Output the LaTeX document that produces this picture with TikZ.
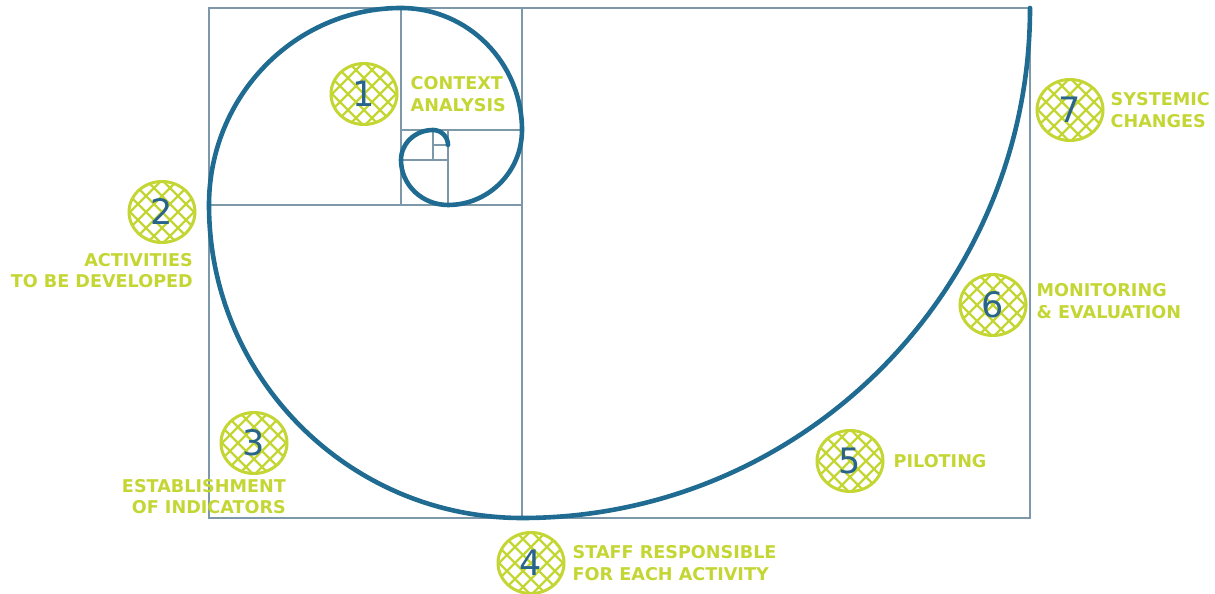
\documentclass[tikz,border=0pt]{standalone}
\usepackage{fontspec}
\setmainfont{DejaVu Sans}
\usetikzlibrary{positioning,shapes.geometric}
\definecolor{spiralblue}{RGB}{31,107,145}
\definecolor{gridgray}{RGB}{125,152,168}
\definecolor{limegreen}{RGB}{196,214,52}
\definecolor{digitblue}{RGB}{40,100,140}

\begin{document}
\begin{tikzpicture}[x=1pt,y=1pt,
    grid/.style={draw=gridgray, line width=1.4pt},
    spiral/.style={draw=spiralblue, line width=4.6pt, line cap=round},
    badge/.style={
      ellipse, draw=limegreen, line width=3pt,
      minimum width=66pt, minimum height=61pt, inner sep=0pt,
      text=digitblue, font=\fontsize{35}{35}\selectfont,
      path picture={
        \foreach \k in {-5,...,5}{
          \draw[limegreen,line width=2.2pt]
            ([xshift=\k*16pt]path picture bounding box.center) +(-45pt,-45pt) -- +(45pt,45pt);
          \draw[limegreen,line width=2.2pt]
            ([xshift=\k*16pt]path picture bounding box.center) +(-45pt,45pt) -- +(45pt,-45pt);
        }}
    },
    lbl/.style={text=limegreen, font=\fontsize{17.6}{21.5}\selectfont\bfseries,
      inner sep=0pt, align=left}
  ]
  \useasboundingbox (0,0) rectangle (1215,594);

  % golden rectangle
  \draw[grid] (209,76) rectangle (1030,586);
  \draw[grid] (522,76) -- (522,586);
  \draw[grid] (209,389) -- (522,389);
  \draw[grid] (401,389) -- (401,586);
  \draw[grid] (401,464) -- (522,464);
  \draw[grid] (448,389) -- (448,464);
  \draw[grid] (401,434) -- (448,434);
  \draw[grid] (433,434) -- (433,464);
  \draw[grid] (433,449) -- (448,449);

  % spiral
  \draw[spiral] (1030,586)
    arc[start angle=0,end angle=-90,x radius=508,y radius=510]
    arc[start angle=-90,end angle=-180,radius=313]
    arc[start angle=180,end angle=90,x radius=192,y radius=197]
    arc[start angle=90,end angle=0,x radius=121,y radius=122]
    arc[start angle=0,end angle=-90,x radius=74,y radius=75]
    arc[start angle=-90,end angle=-180,x radius=47,y radius=45]
    arc[start angle=180,end angle=90,x radius=32,y radius=30]
    arc[start angle=90,end angle=0,radius=15];

  % steps
  \node[badge] (b1) at (364,500) {1};
  \node[badge] (b2) at (162,382) {2};
  \node[badge] (b3) at (254,151) {3};
  \node[badge] (b4) at (531,31) {4};
  \node[badge] (b5) at (850,133) {5};
  \node[badge] (b6) at (993,289) {6};
  \node[badge] (b7) at (1070,484) {7};

  \node[lbl, right=12pt of b1] (t1) {CONTEXT\\ANALYSIS};
  \node[lbl, align=right, anchor=north east] (t2) at (193,341) {ACTIVITIES\\TO BE DEVELOPED};
  \node[lbl, align=right, anchor=north east] (t3) at (286,115) {ESTABLISHMENT\\OF INDICATORS};
  \node[lbl, right=7pt of b4] (t4) {STAFF RESPONSIBLE\\FOR EACH ACTIVITY};
  \node[lbl, right=9pt of b5] (t5) {PILOTING};
  \node[lbl, right=9pt of b6, yshift=4pt] (t6) {MONITORING\\\& EVALUATION};
  \node[lbl, right=6pt of b7] (t7) {SYSTEMIC\\CHANGES};
\end{tikzpicture}
\end{document}
